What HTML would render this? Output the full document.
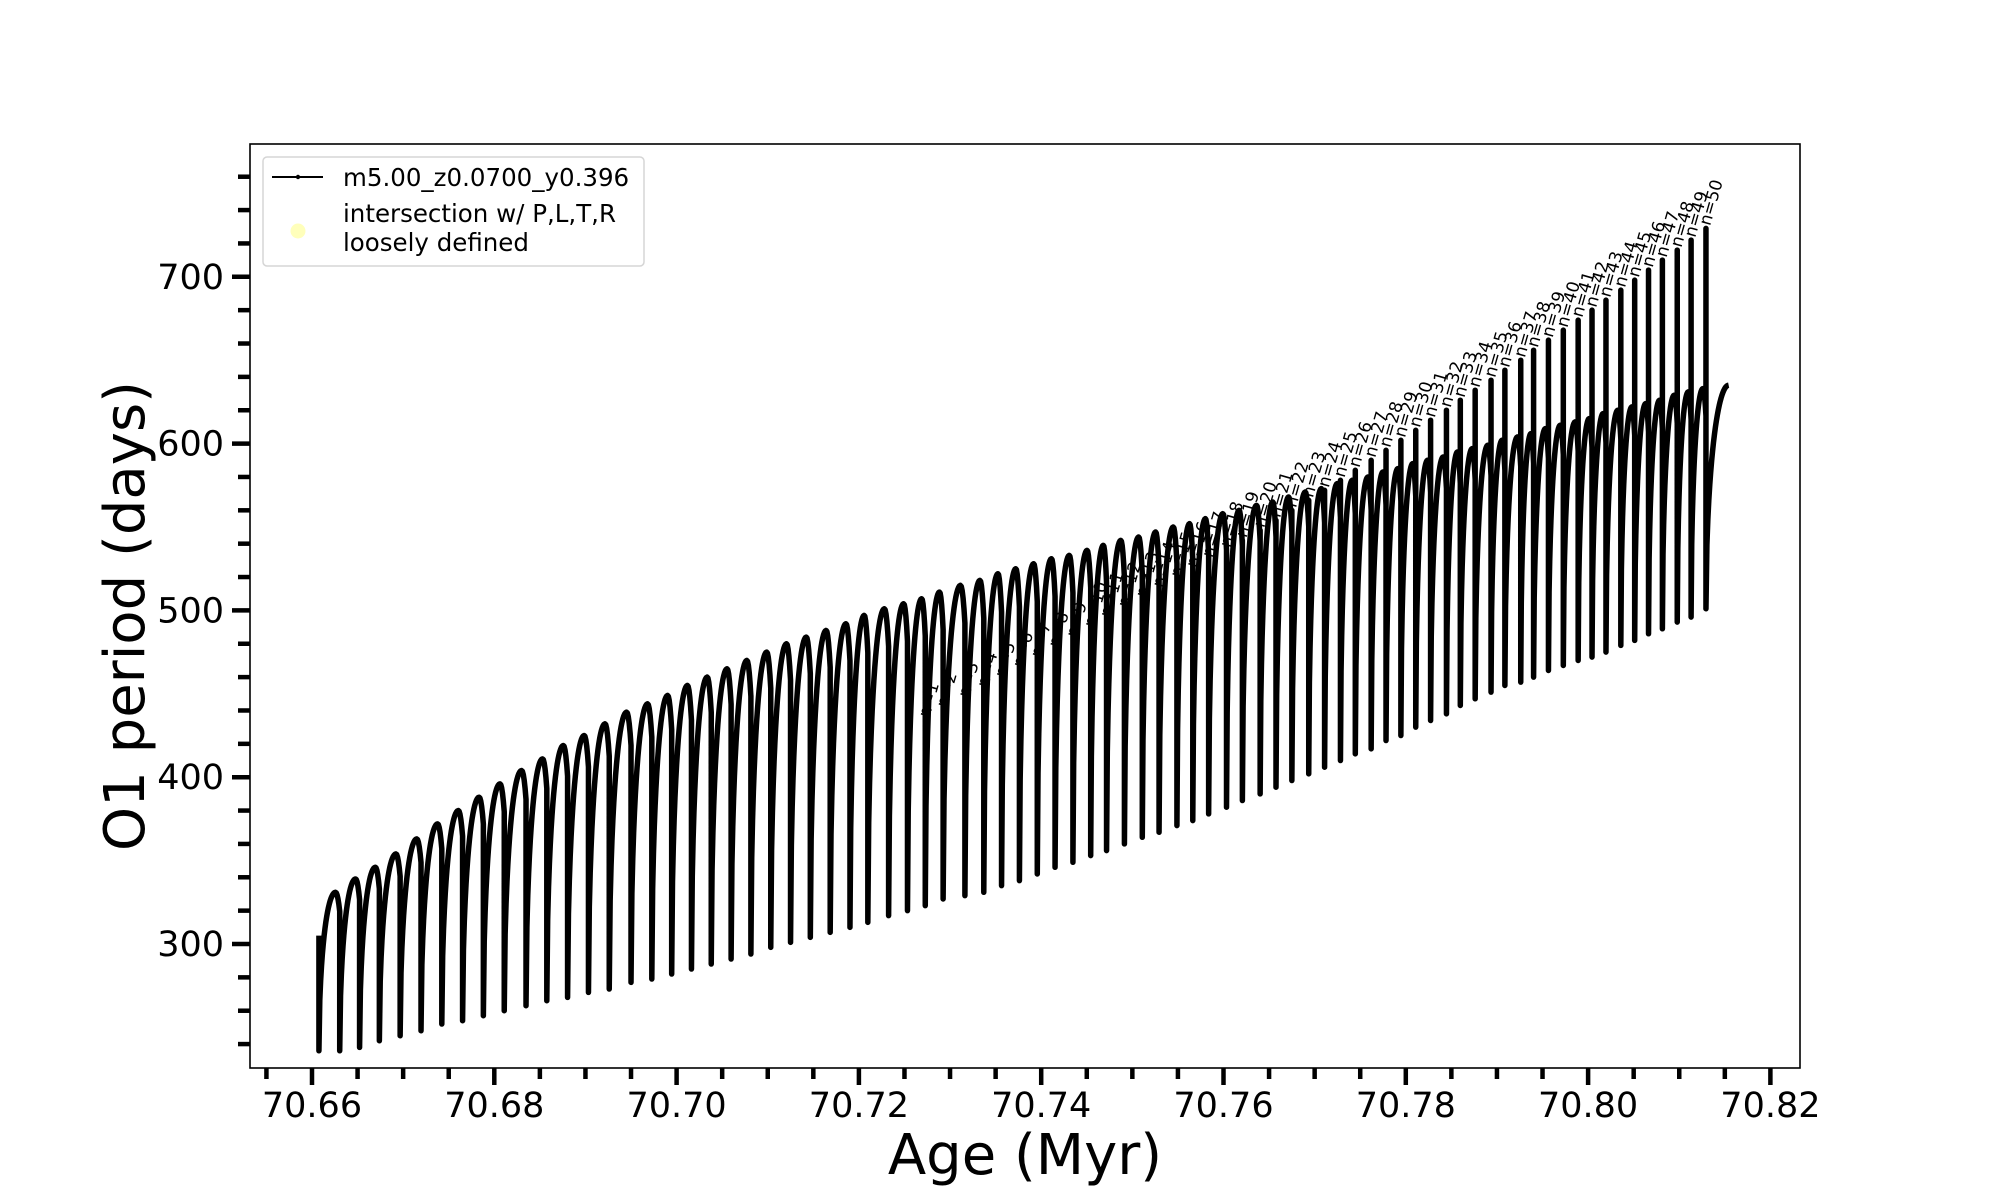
<!DOCTYPE html>
<html><head><meta charset="utf-8"><style>
html,body{margin:0;padding:0;background:#fff;}
svg{display:block;font-family:"DejaVu Sans","Liberation Sans",sans-serif;}
</style></head><body>
<svg id="chart" width="2000" height="1200" viewBox="0 0 2000 1200" xmlns="http://www.w3.org/2000/svg">
<rect x="0" y="0" width="2000" height="1200" fill="#fff"/>
<g id="plot"></g>
<g id="xaxis"></g>
<g id="yaxis"></g>
<rect x="250" y="144" width="1550" height="924" fill="none" stroke="#000" stroke-width="1.6"/>
<text x="1025" y="1174" font-size="56" text-anchor="middle">Age (Myr)</text>
<text transform="translate(144,616) rotate(-90)" font-size="56" text-anchor="middle" textLength="470" lengthAdjust="spacingAndGlyphs">O1 period (days)</text>
<g>
<rect x="263" y="157" width="381" height="109" rx="4" fill="#fff" fill-opacity="0.8" stroke="#d5d5d5" stroke-width="1.5"/>
<line x1="272" y1="177" x2="323" y2="177" stroke="#000" stroke-width="2"/>
<circle cx="298" cy="177" r="2.2" fill="#000"/>
<text x="343" y="186" font-size="24.5">m5.00_z0.0700_y0.396</text>
<circle cx="298" cy="231" r="7.5" fill="#ffff9e" fill-opacity="0.7"/>
<text x="343" y="222" font-size="24.5">intersection w/ P,L,T,R</text>
<text x="343" y="251" font-size="24.5">loosely defined</text>
</g>
</svg>
<script>
const dropAges = [70.66076,
70.66304,70.66522,70.66739,70.66967,70.67196,70.67424,70.67652,70.67880,70.68109,70.68348,
70.68576,70.68804,70.69033,70.69261,70.69500,70.69728,70.69946,70.70163,70.70380,70.70598,
70.70815,70.71033,70.71250,70.71467,70.71685,70.71902,70.72098,70.72326,70.72533,70.72728,70.72924,
70.73163,70.73370,70.73565,70.73761,70.73957,70.74152,70.74348,70.74543,70.74717,70.74913,
70.75109,70.75293,70.75489,70.75663,70.75837,70.76033,70.76207,70.76402,70.76576,70.76750,
70.76935,70.77109,70.77283,70.77446,70.77620,70.77783,70.77946,70.78109,70.78272,70.78446,
70.78598,70.78761,70.78935,70.79087,70.79261,70.79402,70.79565,70.79728,70.79891,70.80043,
70.80196,70.80359,70.80511,70.80663,70.80815,70.80978,70.81130,70.81293];
const peakValues = [305,
331,339,346,354,363,372,380,388,396,404,411,419,425,432,439,444,449,455,460,465,470,475,480,484,488,492,497,501,504,507,511,515,518,
522,525,528,531,533,536,539,542,544,547,550,552,555,558,560,563,565,568,571,573,576,578,580,583,585,588,590,592,595,597,599,602,604,606,609,611,613,615,618,620,622,624,626,629,631,633];
const minValues = [236,
236,238,242,245,248,252,254,257,260,263,266,268,271,273,277,279,282,285,288,291,294,298,301,304,307,310,313,317,320,323,327,
329,331,335,338,342,346,349,353,356,360,364,367,371,374,378,382,386,390,394,398,402,406,410,414,417,422,425,430,434,438,
443,447,451,455,457,460,464,467,470,472,475,479,482,486,489,493,496,501];
const spikeValues = [434,440,446,452,458,464,470,476,482,488,494,500,506,512,518,524,530,536,542,548,
554,560,566,572,578,584,590,596,602,608,614,620,626,632,638,644,650,656,662,668,674,680,686,692,698,704,710,716,722,729];
const endAge = 70.81542;
const endValue = 635;
const xTickLabels = ["70.66","70.68","70.70","70.72","70.74","70.76","70.78","70.80","70.82"];
const yTickLabels = ["300","400","500","600","700"];

const NS = "http://www.w3.org/2000/svg";
function X(a){ return 312 + (a - 70.66) * 9115; }
function Y(v){ return 944 - (v - 300) * 1.668; }
function mk(tag, attrs, parent){
  const e = document.createElementNS(NS, tag);
  for (const k in attrs) e.setAttribute(k, attrs[k]);
  parent.appendChild(e); return e;
}
function shape(t){
  if (t < 0.8){ const u = 1 - t/0.8; return Math.sqrt(Math.max(0, 1 - u*u)); }
  const w = (t - 0.8)/0.2; return 1 - 0.12*w*w;
}
const plot = document.getElementById('plot');
const N = dropAges.length;
const spikeStart = N - spikeValues.length;
let d = "";
let cur = peakValues[0];
for (let k = 0; k < N; k++){
  const x = X(dropAges[k]);
  let top = cur;
  if (k >= spikeStart) top = Math.max(cur, spikeValues[k - spikeStart]);
  if (k === 0) d += "M" + x.toFixed(2) + "," + Y(top).toFixed(2);
  else d += "L" + x.toFixed(2) + "," + Y(top).toFixed(2);
  d += "L" + x.toFixed(2) + "," + Y(minValues[k]).toFixed(2);
  const a0 = dropAges[k];
  const last = (k === N - 1);
  const a1 = last ? endAge : dropAges[k+1];
  const pk = last ? endValue : peakValues[k+1];
  const tMax = last ? 0.8 : 1.0;
  const steps = 24;
  for (let i = 1; i <= steps; i++){
    const t = tMax * i / steps;
    const age = a0 + (a1 - a0) * (t / tMax);
    const v = minValues[k] + (pk - minValues[k]) * shape(t);
    d += "L" + X(age).toFixed(2) + "," + Y(v).toFixed(2);
    if (i === steps) cur = v;
  }
}
const path = mk('path', {d: d, fill: 'none', stroke: '#000', 'stroke-width': 5.5, 'stroke-linejoin': 'round'}, plot);



for (let j = 0; j < spikeValues.length; j++){
  const k = spikeStart + j;
  const x = X(dropAges[k]) + 4, y = Y(spikeValues[j]) - 2;
  const t = mk('text', {x: x, y: y, 'font-size': 17, transform: 'rotate(-74 ' + x.toFixed(2) + ' ' + y.toFixed(2) + ')'}, plot);
  t.textContent = 'n=' + (j + 1);
  
  
}

const xa = document.getElementById('xaxis');
for (let i = 0; i <= 33; i++){
  const a = 70.655 + i * 0.005;
  const major = (i % 4 === 1);
  const x = X(a);
  const tk = mk('line', {x1: x, y1: 1068, x2: x, y2: major ? 1085 : 1079, stroke: '#000', 'stroke-width': 4.5}, xa);
  
  
}
for (let i = 0; i < xTickLabels.length; i++){
  const t = mk('text', {x: X(parseFloat(xTickLabels[i])), y: 1117, 'font-size': 35, 'text-anchor': 'middle'}, xa);
  t.textContent = xTickLabels[i];
  
  
}
const ya = document.getElementById('yaxis');
for (let v = 240; v <= 760; v += 20){
  const major = (v % 100 === 0);
  const y = Y(v);
  const tk = mk('line', {x1: major ? 232 : 238, y1: y, x2: 250, y2: y, stroke: '#000', 'stroke-width': 4.5}, ya);
  
  
}
for (let i = 0; i < yTickLabels.length; i++){
  const t = mk('text', {x: 224, y: Y(parseFloat(yTickLabels[i])) + 12, 'font-size': 35, 'text-anchor': 'end'}, ya);
  t.textContent = yTickLabels[i];
  
  
}
</script>
</body></html>
